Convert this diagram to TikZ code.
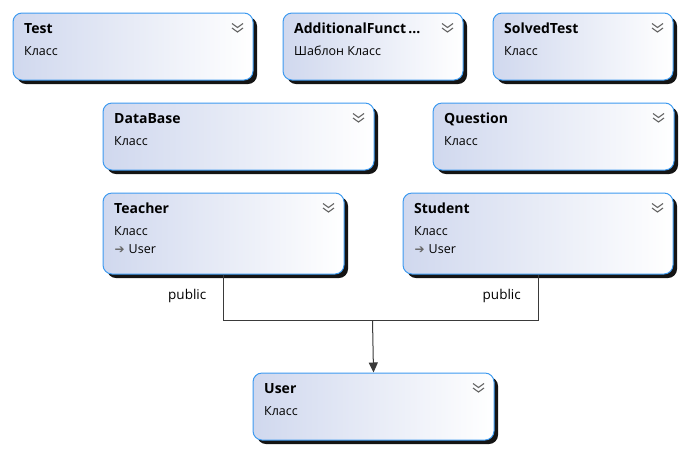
\documentclass[tikz,border=0pt]{standalone}
\usepackage{fontspec}
\setmainfont{Open Sans}
\newfontfamily\symfont{DejaVu Sans}
\usetikzlibrary{positioning,shadows,arrows.meta}

\definecolor{boxleft}{HTML}{D0D8EE}
\definecolor{boxedge}{HTML}{3D9AF0}
\definecolor{linegray}{HTML}{3A3A3A}
\definecolor{markgray}{HTML}{666666}

\tikzset{
    classbox/.style={rectangle, rounded corners=9pt, draw=boxedge, line width=1pt,
        left color=boxleft, right color=white, minimum height=67pt, inner sep=0pt,
        drop shadow={shadow xshift=4pt, shadow yshift=-4pt, fill=black!92, opacity=1}},
    tallbox/.style={classbox, minimum height=81pt},
    boxtitle/.style={anchor=base west, inner sep=0pt, font=\fontsize{14}{16}\selectfont\bfseries},
    boxkind/.style={anchor=base west, inner sep=0pt, font=\fontsize{12.5}{14}\selectfont},
    parentmark/.style={anchor=base west, inner sep=0pt, text=markgray, font=\symfont\fontsize{12}{14}\selectfont},
    edgelabel/.style={inner sep=0pt, font=\fontsize{13.5}{16}\selectfont}
}

% double chevron in the upper right corner of a box
\newcommand{\foldmark}[1]{%
    \draw[markgray, line width=1.1pt]
        ([xshift=-21.5pt,yshift=-11pt]#1.north east) -- ++(5.5pt,-4pt) -- ++(5.5pt,4pt);
    \draw[markgray, line width=1.1pt]
        ([xshift=-21.5pt,yshift=-15.5pt]#1.north east) -- ++(5.5pt,-4pt) -- ++(5.5pt,4pt);
}

\begin{document}
\begin{tikzpicture}[x=1pt, y=-1pt, >={Triangle[length=10pt,width=9pt]}]

    \useasboundingbox (0,0) rectangle (684,451);

    %Boxes
    \node   (test) [classbox, minimum width=240pt, anchor=north west] at (12.5,12.5) {};
    \node   (additional) [classbox, minimum width=180pt, right=29pt of test] {};
    \node   (solved) [classbox, minimum width=180pt, right=29pt of additional] {};
    \node   (database) [classbox, minimum width=271pt, anchor=north west] at (102.5,102.5) {};
    \node   (question) [classbox, minimum width=241pt, right=58pt of database] {};
    \node   (teacher) [tallbox, minimum width=241pt, anchor=north west] at (102.5,192.5) {};
    \node   (student) [tallbox, minimum width=270pt, right=58pt of teacher] {};
    \node   (user) [classbox, minimum width=241pt, anchor=north west] at (252.5,372.5) {};

    %Texts
    \node   (testtitle) [below right=21pt and 11.5pt of test.north west, boxtitle] {Test};
    \node   (testkind) [below right=42.5pt and 11.5pt of test.north west, boxkind] {Класс};
    \node   (addtitle) [below right=21pt and 11.5pt of additional.north west, boxtitle] {AdditionalFunct\,...};
    \node   (addkind) [below right=42.5pt and 11.5pt of additional.north west, boxkind] {Шаблон Класс};
    \node   (solvedtitle) [below right=21pt and 11.5pt of solved.north west, boxtitle] {SolvedTest};
    \node   (solvedkind) [below right=42.5pt and 11.5pt of solved.north west, boxkind] {Класс};
    \node   (dbtitle) [below right=21pt and 11.5pt of database.north west, boxtitle] {DataBase};
    \node   (dbkind) [below right=42.5pt and 11.5pt of database.north west, boxkind] {Класс};
    \node   (qtitle) [below right=21pt and 11.5pt of question.north west, boxtitle] {Question};
    \node   (qkind) [below right=42.5pt and 11.5pt of question.north west, boxkind] {Класс};
    \node   (teachertitle) [below right=21pt and 11.5pt of teacher.north west, boxtitle] {Teacher};
    \node   (teacherkind) [below right=42.5pt and 11.5pt of teacher.north west, boxkind] {Класс};
    \node   (teachermark) [below right=61pt and 12pt of teacher.north west, parentmark] {➔};
    \node   (teacherbase) [below right=61pt and 26pt of teacher.north west, boxkind] {User};
    \node   (studenttitle) [below right=21pt and 11.5pt of student.north west, boxtitle] {Student};
    \node   (studentkind) [below right=42.5pt and 11.5pt of student.north west, boxkind] {Класс};
    \node   (studentmark) [below right=61pt and 12pt of student.north west, parentmark] {➔};
    \node   (studentbase) [below right=61pt and 26pt of student.north west, boxkind] {User};
    \node   (usertitle) [below right=21pt and 11.5pt of user.north west, boxtitle] {User};
    \node   (userkind) [below right=42.5pt and 11.5pt of user.north west, boxkind] {Класс};

    %Chevrons
    \foreach \cls in {test, additional, solved, database, question, teacher, student, user}
        {\foldmark{\cls}}

    %Lines
    \coordinate (join) at (372.5,320);
    \draw[linegray, line width=1pt] (teacher.south) |- (join) -| (student.south);
    \draw[->, linegray, line width=1pt] (join) -- (user.north);

    \node   (teacherpub) [below left=15pt and 17pt of teacher.south, edgelabel] {public};
    \node   (studentpub) [below left=15pt and 17pt of student.south, edgelabel] {public};

\end{tikzpicture}
\end{document}
